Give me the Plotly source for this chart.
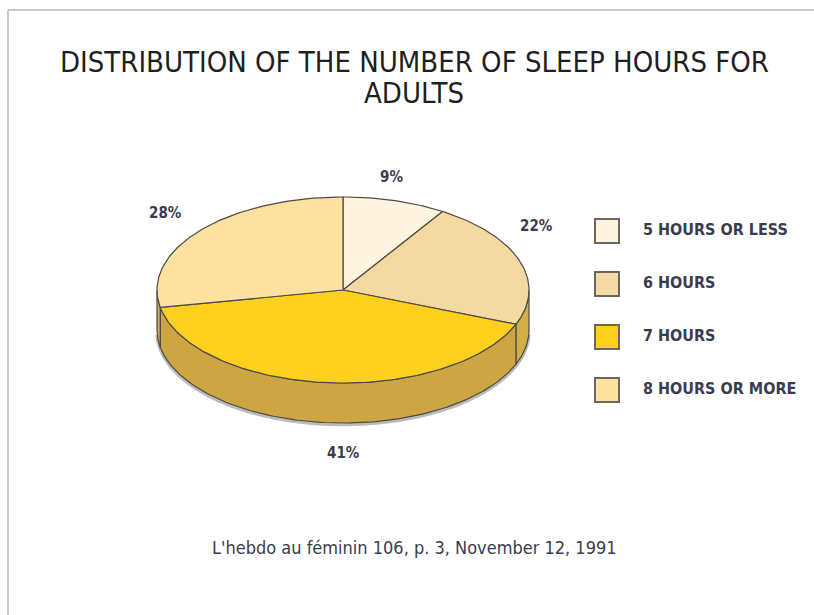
import math
import plotly.graph_objects as go

# Survey data
categories = ["5 HOURS OR LESS", "6 HOURS", "7 HOURS", "8 HOURS OR MORE"]
shares = [9, 22, 41, 28]

title_lines = ["DISTRIBUTION OF THE NUMBER OF SLEEP HOURS FOR", "ADULTS"]
source_text = "L'hebdo au féminin 106, p. 3, November 12, 1991"

# Styling
top_colors = ["#FEF4DF", "#F5D9A2", "#FDD01E", "#FCE1A0"]
side_colors = ["#D8BC7A", "#D2AE48", "#CDA643", "#D0AC55"]
edge = "#4d4a44"
text_col = "#3b3b50"
cond = "DejaVu Sans Condensed"

# Geometry of the tilted pie (pixel-like plot units)
cx, cy = 343, 290
rx, ry = 186, 93
depth = 40


def pt(theta, dy=0.0):
    t = math.radians(theta)
    return cx + rx * math.sin(t), cy - ry * math.cos(t) + dy


def arc(a, b, dy=0.0, step=1.0):
    n = max(2, int(abs(b - a) / step) + 1)
    return [pt(a + (b - a) * i / (n - 1), dy) for i in range(n)]


total = sum(shares)
bounds = []
acc = 0.0
for v in shares:
    a = acc / total * 360
    acc += v
    b = acc / total * 360
    bounds.append((a, b))

fig = go.Figure()

# Soft shadow under the lower rim
shadow = arc(92, 268, dy=depth + 1.5)
fig.add_trace(go.Scatter(
    x=[p[0] for p in shadow], y=[p[1] for p in shadow], mode="lines",
    line=dict(color="rgba(60,60,60,0.35)", width=3.5, shape="spline"),
    hoverinfo="skip", showlegend=False))

# Side walls (only the front half, 90..270 degrees, is visible)
for (a, b), col in zip(bounds, side_colors):
    lo, hi = max(a, 90), min(b, 270)
    if hi <= lo:
        continue
    pts = arc(lo, hi) + arc(hi, lo, dy=depth)
    pts.append(pts[0])
    fig.add_trace(go.Scatter(
        x=[p[0] for p in pts], y=[p[1] for p in pts],
        mode="lines", fill="toself", fillcolor=col,
        line=dict(color=edge, width=1.2), hoverinfo="skip", showlegend=False))

# Top face slices
for (a, b), col, name, v in zip(bounds, top_colors, categories, shares):
    pts = [(cx, cy)] + arc(a, b) + [(cx, cy)]
    fig.add_trace(go.Scatter(
        x=[p[0] for p in pts], y=[p[1] for p in pts],
        mode="lines", fill="toself", fillcolor=col,
        line=dict(color=edge, width=1.2), name=name,
        hovertemplate=f"{name}: {v}%<extra></extra>", showlegend=False))

# Percentage labels around the pie
label_xy = [(391, 177), (536, 226), (343, 453), (165, 213)]
for v, (lx, ly) in zip(shares, label_xy):
    fig.add_annotation(x=lx, y=ly, text=f"{v}%", showarrow=False,
                       font=dict(family=cond, size=15, color=text_col, weight="bold"))

# Legend: swatches with captions
leg_x, leg_y0, leg_dy = 607, 231, 53
fig.add_trace(go.Scatter(
    x=[leg_x] * len(categories),
    y=[leg_y0 + i * leg_dy for i in range(len(categories))],
    mode="markers+text",
    marker=dict(symbol="square", size=24, color=top_colors,
                line=dict(color="#6b6660", width=2)),
    text=["    " + c for c in categories], textposition="middle right",
    textfont=dict(family=cond, size=16, color=text_col, weight="bold"),
    hoverinfo="skip", showlegend=False, cliponaxis=False))

# Title (two centred lines) and source note
for line, ty in zip(title_lines, [62, 93]):
    fig.add_annotation(x=414, y=ty, text=line, showarrow=False,
                       font=dict(family=cond, size=29, color="#1f1f1f"))
fig.add_annotation(x=414, y=547, text=source_text, showarrow=False,
                   font=dict(family=cond, size=18, color=text_col))

# Frame lines
fig.add_shape(type="line", x0=8, x1=814, y0=10, y1=10,
              line=dict(color="#c9c9c9", width=2))
fig.add_shape(type="line", x0=8, x1=8, y0=10, y1=615,
              line=dict(color="#c9c9c9", width=2))

fig.update_layout(
    width=814, height=615,
    margin=dict(l=0, r=0, t=0, b=0),
    paper_bgcolor="white", plot_bgcolor="white",
    xaxis=dict(range=[0, 814], visible=False, fixedrange=True),
    yaxis=dict(range=[615, 0], visible=False, fixedrange=True),
)

fig.write_html("out.html")
